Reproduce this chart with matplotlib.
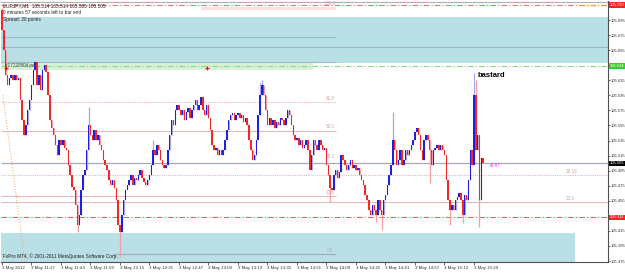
import matplotlib
matplotlib.use("Agg")
import matplotlib.pyplot as plt
import matplotlib.transforms as mtransforms
from matplotlib.patches import Rectangle

plt.rcParams['font.family'] = ['Liberation Sans', 'DejaVu Sans']

# EURJPY M1 bars, close prices (open = previous close)
first_open = 105.708
closes = [
    105.682, 105.655, 105.622, 105.609, 105.618, 105.622, 105.615, 105.622, 105.615, 105.618,
    105.589, 105.562, 105.542, 105.556, 105.576, 105.589, 105.609, 105.629, 105.639, 105.609,
    105.622, 105.602, 105.629, 105.635, 105.626, 105.595, 105.562, 105.552, 105.542, 105.529,
    105.516, 105.536, 105.529, 105.536, 105.525, 105.522, 105.502, 105.489, 105.473, 105.469,
    105.449, 105.423, 105.436, 105.469, 105.489, 105.496, 105.522, 105.556, 105.542, 105.536,
    105.549, 105.536, 105.542, 105.529, 105.522, 105.509, 105.502, 105.496, 105.483, 105.476,
    105.483, 105.472, 105.456, 105.423, 105.414, 105.436, 105.456, 105.469, 105.476, 105.483,
    105.489, 105.476, 105.485, 105.483, 105.489, 105.496, 105.485, 105.480, 105.476, 105.483,
    105.489, 105.502, 105.522, 105.516, 105.529, 105.522, 105.509, 105.502, 105.499, 105.502,
    105.522, 105.542, 105.562, 105.556, 105.576, 105.582, 105.576, 105.569, 105.576, 105.562,
    105.573, 105.578, 105.565, 105.576, 105.582, 105.589, 105.576, 105.582, 105.593, 105.576,
    105.569, 105.582, 105.565, 105.549, 105.529, 105.522, 105.525, 105.516, 105.522, 105.516,
    105.522, 105.536, 105.549, 105.562, 105.569, 105.572, 105.562, 105.569, 105.572, 105.565,
    105.569, 105.560, 105.565, 105.556, 105.536, 105.522, 105.509, 105.516, 105.536, 105.569,
    105.595, 105.609, 105.595, 105.576, 105.556, 105.565, 105.556, 105.562, 105.552, 105.560,
    105.556, 105.565, 105.562, 105.556, 105.565, 105.576, 105.569, 105.556, 105.542, 105.536,
    105.538, 105.529, 105.536, 105.525, 105.529, 105.536, 105.522, 105.496, 105.516, 105.536,
    105.529, 105.522, 105.536, 105.529, 105.522, 105.525, 105.502, 105.489, 105.472, 105.469,
    105.489, 105.496, 105.485, 105.493, 105.516, 105.509, 105.502, 105.496, 105.502, 105.509,
    105.499, 105.502, 105.496, 105.499, 105.489, 105.483, 105.476, 105.463, 105.456, 105.443,
    105.436, 105.449, 105.443, 105.436, 105.456, 105.443, 105.436, 105.456, 105.463, 105.476,
    105.489, 105.502, 105.536, 105.522, 105.502, 105.509, 105.522, 105.502, 105.509, 105.522,
    105.516, 105.522, 105.529, 105.536, 105.546, 105.552, 105.542, 105.522, 105.509, 105.536,
    105.542, 105.536, 105.522, 105.502, 105.522, 105.525, 105.529, 105.522, 105.529, 105.522,
    105.516, 105.483, 105.456, 105.443, 105.449, 105.443, 105.456, 105.460, 105.465, 105.456,
    105.436, 105.463, 105.456, 105.483, 105.522, 105.502, 105.595, 105.522, 105.542, 105.456,
    105.512, 105.505,
]
# bars whose shadows stick out past the body
wick_highs = {0: 105.711, 47: 105.579, 82: 105.536, 140: 105.611, 141: 105.615,
              212: 105.573, 256: 105.625, 257: 105.615}
wick_lows = {41: 105.414, 64: 105.380, 178: 105.453, 203: 105.427, 206: 105.416,
             232: 105.478, 243: 105.423, 250: 105.425, 259: 105.420}

time_labels = ["3 May 2012", "3 May 11:27", "3 May 11:43", "3 May 11:59", "3 May 12:15",
               "3 May 12:31", "3 May 12:47", "3 May 13:03", "3 May 13:19", "3 May 13:35",
               "3 May 13:51", "3 May 14:09", "3 May 14:25", "3 May 14:41", "3 May 14:57",
               "3 May 15:13", "3 May 15:29"]
price_ticks = [105.695, 105.675, 105.655, 105.615, 105.595, 105.575, 105.555, 105.535,
               105.515, 105.495, 105.475, 105.455, 105.415, 105.395, 105.375]

# levels: fib grid + order lines
fib_levels = [100.0, 61.8, 50.0, 38.2, 23.6, 0.0]
fib_prices = [105.711, 105.586, 105.548, 105.509, 105.461, 105.384]
bid = 105.505
sell_line = 105.634
top_line = 105.715
stop_line = 105.433

opens = [first_open] + closes[:-1]
n = len(closes)
xs = list(range(n))
highs = [max(o, c) for o, c in zip(opens, closes)]
lows = [min(o, c) for o, c in zip(opens, closes)]
for k, v in wick_highs.items():
    highs[k] = v
for k, v in wick_lows.items():
    lows[k] = v

fig = plt.figure(figsize=(6.25, 2.73), dpi=100)
ax = fig.add_axes([1 / 625, 11 / 273, 607 / 625, 261 / 273])
ax.set_xlim(-0.5, 328.7)
ax.set_ylim(105.3737, 105.7203)

blue_fill = "#b9dfe7"
# supply / demand zones
ax.add_patch(Rectangle((-0.5, 105.638), 330, 0.061, facecolor=blue_fill, lw=0, zorder=0))
ax.add_patch(Rectangle((-0.5, 105.360), 311.5, 0.052, facecolor=blue_fill, lw=0, zorder=0))
ax.add_patch(Rectangle((-0.5, 105.629), 169, 0.009, facecolor="#d8f0d8", lw=0, zorder=0))
ax.add_patch(Rectangle((108, 105.709), 73, 0.003, facecolor="#f8e0e0", lw=0, zorder=0))

# lines inside the top zone
ax.hlines([105.672, 105.639], -0.5, 181, color="#9db6ca", lw=0.8, zorder=1)
ax.hlines(105.659, -0.5, 330, color="#9db6ca", lw=0.8, zorder=1)

# fibo grid
ax.hlines(fib_prices[1], -0.5, 181, color="#e8b8b8", lw=0.8, ls=(0, (1, 1)), zorder=1)
ax.hlines(fib_prices[2], -0.5, 181, color="#e8b8b8", lw=0.8, zorder=1)
ax.hlines(fib_prices[4], -0.5, 181, color="#e8b8b8", lw=0.8, zorder=1)
ax.hlines(fib_prices[5], 60, 181, color="#9aaec0", lw=0.8, zorder=1)
for lv, p in zip(fib_levels, fib_prices):
    ax.text(178, p + 0.002, f"{lv:.1f}", fontsize=3.3, color="#c8a8a8", ha="center", va="bottom")

ax.hlines(bid, -0.5, 330, color="#a8a8b8", lw=0.9, zorder=1)
ax.hlines(105.489, -0.5, 330, color="#e8b8b8", lw=0.8, ls=(0, (1, 1)), zorder=1)
ax.hlines(105.453, -0.5, 330, color="#e8b8b8", lw=0.8, zorder=1)
ax.text(306, 105.491, "26.18", fontsize=3.3, color="#d0a8a8", ha="left", va="bottom")
ax.text(306, 105.455, "23.6", fontsize=3.3, color="#d0a8a8", ha="left", va="bottom")

ax.hlines(top_line, -0.5, 330, color="#f07070", lw=0.8, ls=(0, (5, 2, 1, 2)), zorder=1)
ax.hlines(sell_line, -0.5, 330, color="#80e080", lw=0.8, ls=(0, (5, 2, 1, 2)), zorder=1)
ax.hlines(stop_line, -0.5, 330, color="#f06060", lw=0.8, ls=(0, (5, 2, 1, 2)), zorder=1)
ax.plot([0.5, 12.5], [105.595, 105.374], color="#f0b070", lw=0.8, ls=(0, (1, 1.5)), zorder=1)
ax.plot([2, 111], [105.631, 105.631], "+", color="red", ms=3, mew=0.8, zorder=3)

# candles
up = [c >= o for o, c in zip(opens, closes)]
wick_cols = ["#a8a8e8" if u else "#f4a0a0" for u in up]
body_cols = ["#1f1fe0" if u else "#f02828" for u in up]
ax.vlines(xs, lows, highs, colors=wick_cols, lw=0.9, zorder=2)
ax.bar(xs, [max(abs(c - o), 0.0006) for o, c in zip(opens, closes)],
       bottom=[min(o, c) for o, c in zip(opens, closes)], width=0.8,
       color=body_cols, lw=0, zorder=3)

# texts
ax.text(0.004, 0.992, "EURJPY,M1  105.514 105.514 105.505 105.505", transform=ax.transAxes,
        fontsize=3.4, color="#202020", va="top")
ax.text(0.004, 0.965, "0 minutes 57 seconds left to bar end", transform=ax.transAxes,
        fontsize=3.4, color="#202020", va="top")
ax.text(0.004, 0.94, "Spread: 20 points", transform=ax.transAxes,
        fontsize=3.4, color="#202020", va="top")
ax.text(1.5, sell_line, "#17720504 pe", fontsize=3.3, color="#404040", va="center")
ax.text(0.004, 0.012, "FxPro MT4, \u00a9 2001-2011 MetaQuotes Software Corp.",
        transform=ax.transAxes, fontsize=3.4, color="#202020", va="bottom")
ax.text(258, 105.621, "bastard", fontsize=5.5, fontweight="bold", color="black", va="center")
ax.text(264, 105.502, "+8.87", fontsize=3.3, color="#e040e0", va="center")
ax.text(0.995, 0.988, "sell limit 0.10", transform=ax.transAxes, fontsize=3.0,
        color="#e8e040", ha="right", va="top")

# axes
for s in ("left", "top"):
    ax.spines[s].set_visible(False)
ax.spines["right"].set_color("#505050")
ax.spines["bottom"].set_color("#505050")
ax.spines["right"].set_linewidth(0.8)
ax.spines["bottom"].set_linewidth(0.8)
ax.axhline(105.7195, color="#b0b0b0", lw=0.8)

ax.yaxis.tick_right()
ax.set_yticks(price_ticks)
ax.set_yticklabels([f"{p:.3f}" for p in price_ticks])
ax.tick_params(axis="y", labelsize=3.0, length=1.5, width=0.5, pad=0.5, colors="#303030")
ax.set_xticks(list(range(0, 16 * len(time_labels), 16)))
ax.set_xticklabels(time_labels)
ax.tick_params(axis="x", labelsize=3.2, length=2, width=0.5, pad=1.0, colors="#303030")
for lbl in ax.get_xticklabels():
    lbl.set_ha("left")

trans = mtransforms.blended_transform_factory(ax.transAxes, ax.transData)
for p, txt, fc in [(top_line, "105.720", "#ff2020"), (sell_line, "105.634", "#30d030"),
                   (bid, "105.505", "black"), (stop_line, "105.431", "#ff2020")]:
    ax.text(1.003, p, txt, transform=trans, fontsize=3.0, color="white", va="center",
            bbox=dict(facecolor=fc, edgecolor="none", pad=0.4))

fig.savefig("out.png", dpi=100, facecolor="white")
